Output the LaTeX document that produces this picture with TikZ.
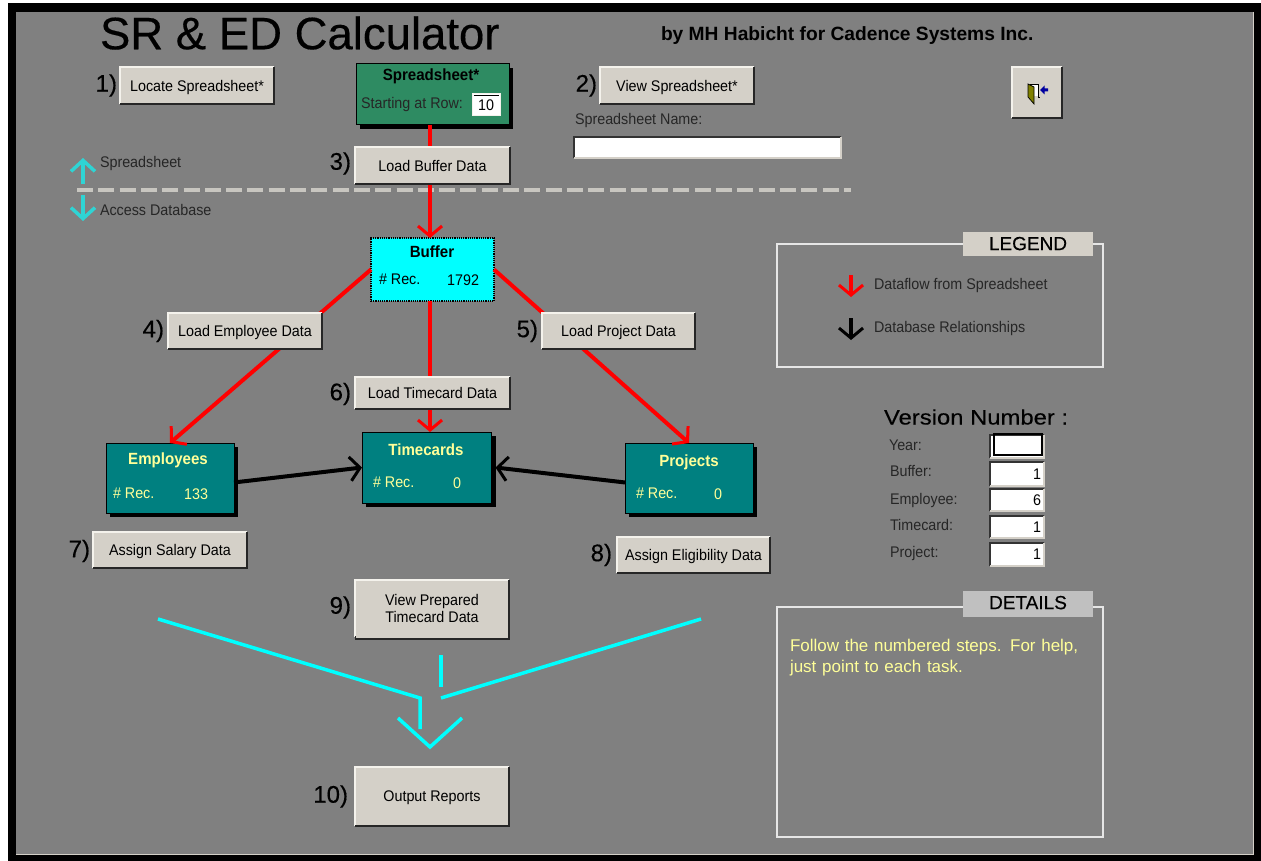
\documentclass[tikz,border=0pt]{standalone}
\usepackage{fontspec}
\setmainfont{Liberation Sans}
\newfontfamily\ui[FakeStretch=0.93]{Liberation Sans}
\newfontfamily\heavy[FakeBold=0.35]{Liberation Sans}
\newfontfamily\wide[FakeStretch=1.135,FakeBold=0.25]{Liberation Sans}
\usetikzlibrary{arrows.meta,calc}
\definecolor{panelgray}{HTML}{808080}
\definecolor{btnface}{HTML}{D4D0C8}
\definecolor{lightedge}{HTML}{F4F2EC}
\definecolor{tealbox}{HTML}{008080}
\definecolor{greenbox}{HTML}{2E8B62}
\definecolor{softcyan}{HTML}{2FD4D4}
\definecolor{purecyan}{HTML}{00FFFF}
\definecolor{purered}{HTML}{FF0000}
\definecolor{paleyellow}{HTML}{FFFF99}
\definecolor{dooroliv}{HTML}{808000}
\definecolor{doorblue}{HTML}{0000A0}
\definecolor{dashgray}{HTML}{C8C6C0}
\definecolor{tabgray}{HTML}{C0C0C0}
\definecolor{framewhite}{HTML}{E6E6E6}
\newcommand{\uisize}{\fontsize{15.4}{17}\selectfont\ui}
\tikzset{
  x=1pt,y=-1pt,
  every node/.style={inner sep=0pt,outer sep=0pt},
  uibtn/.style={rectangle,draw=none,fill=btnface,align=center,font=\uisize,text=black,text depth=0pt},
  uilabel/.style={anchor=west,font=\uisize,text=black!85,text depth=0pt},
  numlabel/.style={anchor=east,font=\fontsize{24}{27}\selectfont\heavy,text=black,yshift=-1pt},
  redflow/.style={draw=purered,line width=4pt,-{Straight Barb[length=10pt,width=24pt,line width=3pt]}},
  blackflow/.style={draw=black,line width=4pt,-{Straight Barb[length=10pt,width=24pt,line width=3pt]}},
  cyanline/.style={draw=purecyan,line width=3.5pt},
  softarrow/.style={draw=softcyan,line width=3.5pt,-{Straight Barb[length=11pt,width=24pt,line width=3.5pt]}},
  field/.style={rectangle,fill=white,draw=none,anchor=north west,font=\uisize},
  frameline/.style={rectangle,anchor=north west,draw=framewhite,line width=1.2pt},
  tabtitle/.style={rectangle,align=center,anchor=north west,font=\fontsize{19}{21}\selectfont\heavy,text=black},
  boxtitle/.style={font=\fontsize{16.2}{18}\selectfont\bfseries\ui,text depth=0pt},
}
% button: name, x1, y1, x2, y2, text
\newcommand{\uibutton}[6]{%
  \node[uibtn,minimum width=#4pt-#2pt,minimum height=#5pt-#3pt,anchor=north west] (#1) at (#2,#3) {#6};
  \draw[lightedge,line width=1.2pt] (#2,#5) -- (#2,#3) -- (#4,#3);
  \draw[black!85,line width=1.4pt] (#2,#5) -- (#4,#5) -- (#4,#3);
}
% data box: name, x1, y1, x2, y2, fill
\newcommand{\databox}[6]{%
  \fill[black] (#2+4,#3+4) rectangle (#4+4,#5+4);
  \node[rectangle,fill=#6,draw=black,line width=1pt,minimum width=#4pt-#2pt,minimum height=#5pt-#3pt,anchor=north west] (#1) at (#2,#3) {};
}
% entry: name x1 y1 x2 y2 text
\newcommand{\entry}[6]{%
  \node[field,minimum width=#4pt-#2pt,minimum height=#5pt-#3pt] (#1) at (#2,#3) {};
  \draw[black!80,line width=1.2pt] (#2,#5) -- (#2,#3) -- (#4,#3);
  \draw[btnface,line width=1.2pt] (#2,#5) -- (#4,#5) -- (#4,#3);
  \node[anchor=east,font=\uisize,text=black] at (#4-3,{(#3+#5)/2}) {#6};
}
\begin{document}
\begin{tikzpicture}
\useasboundingbox (0,0) rectangle (1261,861);
\fill[white] (0,0) rectangle (1261,861);
\fill[black] (8,3) rectangle (1261,861);
\fill[panelgray] (16,12) rectangle (1253,854);
\draw[btnface,line width=1.4pt] (1253.7,12) -- (1253.7,854.7) -- (16,854.7);

% title texts
\node[anchor=west,font=\fontsize{45.5}{48}\selectfont\heavy,text=black] (title) at (100,33) {SR \& ED Calculator};
\node[anchor=west,font=\fontsize{19.2}{21}\selectfont\bfseries,text=black,text depth=0pt] (byline) at (661,34) {by MH Habicht for Cadence Systems Inc.};

% data boxes first, lines below buttons
\databox{sheet}{356}{64}{509}{125}{greenbox}
\fill[purecyan] (371,238) rectangle (494,301);
\node[rectangle,draw=black,densely dotted,line width=1.2pt,minimum width=123pt,minimum height=63pt,anchor=north west] (buffer) at (371,238) {};
\databox{emp}{106}{443}{234}{513}{tealbox}
\databox{time}{362}{432}{491.5}{503}{tealbox}
\databox{proj}{625}{443}{753}{513}{tealbox}

% dashed divider
\coordinate (dashL) at (77,190);
\coordinate (dashR) at (851,190);
\draw[dashgray,line width=3.5pt,dash pattern=on 16pt off 5.3pt] (dashL) -- (dashR);

% connectors
\draw[redflow] ($(sheet.south)+(-2.5,0)$) -- ($(buffer.north)+(-2.5,0)$);
\draw[redflow] (buffer.west) -- (emp.north);
\draw[redflow] (buffer.east) -- (proj.north);
\draw[redflow] ($(buffer.south)+(-2.5,0)$) -- ($(time.north)+(3.25,0)$);
\draw[blackflow] (emp.-4) -- (time.west);
\draw[blackflow] (proj.184) -- ($(time.east)+(4,0)$);

% buttons
\uibutton{locate}{120}{67}{274}{104}{Locate Spreadsheet*}
\uibutton{viewss}{600}{67}{754}{104}{View Spreadsheet*}
\uibutton{loadbuf}{355}{147}{510}{184}{Load Buffer Data}
\uibutton{loademp}{168}{313}{322}{349}{Load Employee Data}
\uibutton{loadproj}{542}{313}{695}{349}{Load Project Data}
\uibutton{loadtime}{355}{377}{510}{409}{Load Timecard Data}
\uibutton{assignsal}{93}{532}{247}{568}{Assign Salary Data}
\uibutton{assignel}{617}{537}{770}{573}{Assign Eligibility Data}
\uibutton{viewprep}{355}{580}{509}{637}{View Prepared\\Timecard Data}
\draw[black!85,line width=1.4pt] (355,639) -- (509,639) -- (509,637);
\fill[btnface] (355.7,636) rectangle (508.3,638.3);
\uibutton{output}{355}{767}{509}{826}{Output Reports}
\uibutton{exit}{1012}{67}{1062}{118}{}

% door icon
\fill[white] (1030,84) rectangle (1038,96.5);
\draw[black,line width=.9pt] (1030,84) -- (1038,84) -- (1038,97) -- (1040,97);
\fill[dooroliv,draw=black,line width=.7pt] (1028,97) -- (1028,84) -- (1034,87) -- (1034,104) -- cycle;
\fill[doorblue] (1040,90) -- (1044.5,85.5) -- (1044.5,88.5) -- (1048,88.5) -- (1048,91.5) -- (1044.5,91.5) -- (1044.5,94.5) -- cycle;

% step numbers
\node[numlabel] at ($(locate.west)+(-3,-1)$) {1)};
\node[numlabel] at ($(viewss.west)+(-3,-1)$) {2)};
\node[numlabel] at ($(loadbuf.west)+(-4,-3)$) {3)};
\node[numlabel] at ($(loademp.west)+(-4,-1)$) {4)};
\node[numlabel] at ($(loadproj.west)+(-4,-1)$) {5)};
\node[numlabel] at ($(loadtime.west)+(-4,0)$) {6)};
\node[numlabel] at ($(assignsal.west)+(-3,0)$) {7)};
\node[numlabel] at ($(assignel.west)+(-5,-1)$) {8)};
\node[numlabel] at ($(viewprep.west)+(-4,-2)$) {9)};
\node[numlabel] at ($(output.west)+(-7,-1)$) {10)};

% spreadsheet box contents
\node[boxtitle,text=black] at (431,75) {Spreadsheet*};
\node[uilabel] at (361,103) {Starting at Row:};
\node[field,minimum width=28pt,minimum height=22pt] (startrow) at (472,94) {};
\draw[lightedge,line width=1pt] (472,94) rectangle (500,116);
\draw[black,line width=.8pt] (473.5,95.5) -- (498.5,95.5);
\node[font=\uisize,text=black] at (486,105) {10};

% buffer contents
\node[boxtitle,text=black] at (432,252) {Buffer};
\node[uilabel,text=black] at (379,279) {\# Rec.};
\node[anchor=east,font=\uisize,text=black] at (479,280) {1792};

% teal box contents
\node[boxtitle,text=paleyellow] at (168,459) {Employees};
\node[uilabel,text=paleyellow] at (113,493) {\# Rec.};
\node[anchor=east,font=\uisize,text=paleyellow] at (208,494) {133};
\node[boxtitle,text=paleyellow] at (426,450) {Timecards};
\node[uilabel,text=paleyellow] at (373,482) {\# Rec.};
\node[anchor=east,font=\uisize,text=paleyellow] at (461,483) {0};
\node[boxtitle,text=paleyellow] at (689,461) {Projects};
\node[uilabel,text=paleyellow] at (636,493) {\# Rec.};
\node[anchor=east,font=\uisize,text=paleyellow] at (722,494) {0};

% spreadsheet name
\node[uilabel] at (575,119) {Spreadsheet Name:};
\entry{ssname}{574}{137}{841}{158}{}

% divider arrows
\coordinate (upS) at (83,184); \coordinate (upE) at (83,158);
\coordinate (dnS) at (83,195); \coordinate (dnE) at (83,221);
\draw[softarrow] (upS) -- (upE);
\draw[softarrow] (dnS) -- (dnE);
\node[uilabel] at (100,162) {Spreadsheet};
\node[uilabel] at (100,210) {Access Database};

% legend
\node[frameline,minimum width=326pt,minimum height=123pt] (legendframe) at (777,244) {};
\node[tabtitle,fill=btnface,minimum width=130pt,minimum height=24pt] (legendtab) at (963,232) {\raisebox{1pt}{LEGEND}};
\coordinate (lgA) at (851,275); \coordinate (lgB) at (851,297);
\coordinate (lgC) at (851,318); \coordinate (lgD) at (851,340);
\draw[redflow] (lgA) -- (lgB);
\draw[blackflow] (lgC) -- (lgD);
\node[uilabel] at (874,284) {Dataflow from Spreadsheet};
\node[uilabel] at (874,327) {Database Relationships};

% version block
\node[anchor=west,font=\fontsize{21}{24}\selectfont\wide,text=black] (version) at (884,417) {Version Number :};
\node[uilabel] at (889,445) {Year:};
\node[uilabel] at (890,471) {Buffer:};
\node[uilabel] at (890,499) {Employee:};
\node[uilabel] at (890,525) {Timecard:};
\node[uilabel] at (890,552) {Project:};
\entry{vyear}{990}{435}{1044}{458}{}
\draw[black,line width=1.2pt] (994,434) rectangle (1042,455);
\entry{vbuf}{990}{462}{1044}{486}{1}
\entry{vemp}{990}{489}{1044}{511}{6}
\entry{vtime}{990}{516}{1044}{538}{1}
\entry{vproj}{990}{543}{1044}{566}{1}

% details
\node[frameline,minimum width=326pt,minimum height=230pt] (detailframe) at (777,607) {};
\node[tabtitle,fill=tabgray,minimum width=130pt,minimum height=26pt] (detailtab) at (963,591) {\raisebox{3pt}{DETAILS}};
\node[anchor=north west,align=left,text width=300pt,font=\fontsize{17}{21}\selectfont,text=paleyellow] (detailtext) at (790,639) {Follow the numbered steps. For help,\\just point to each task.};

% cyan funnel
\coordinate (fa) at (158,619); \coordinate (fb) at (420,698); \coordinate (fc) at (420,729);
\coordinate (fd) at (441,655); \coordinate (fe) at (441,687);
\coordinate (ff) at (701,619); \coordinate (fg) at (441,698);
\coordinate (fh) at (398,718); \coordinate (fi) at (430,747); \coordinate (fj) at (462,718);
\draw[cyanline] (fa) -- (fb) -- (fc);
\draw[cyanline] (fd) -- (fe);
\draw[cyanline] (ff) -- (fg);
\draw[cyanline] (fh) -- (fi) -- (fj);
\end{tikzpicture}
\end{document}
